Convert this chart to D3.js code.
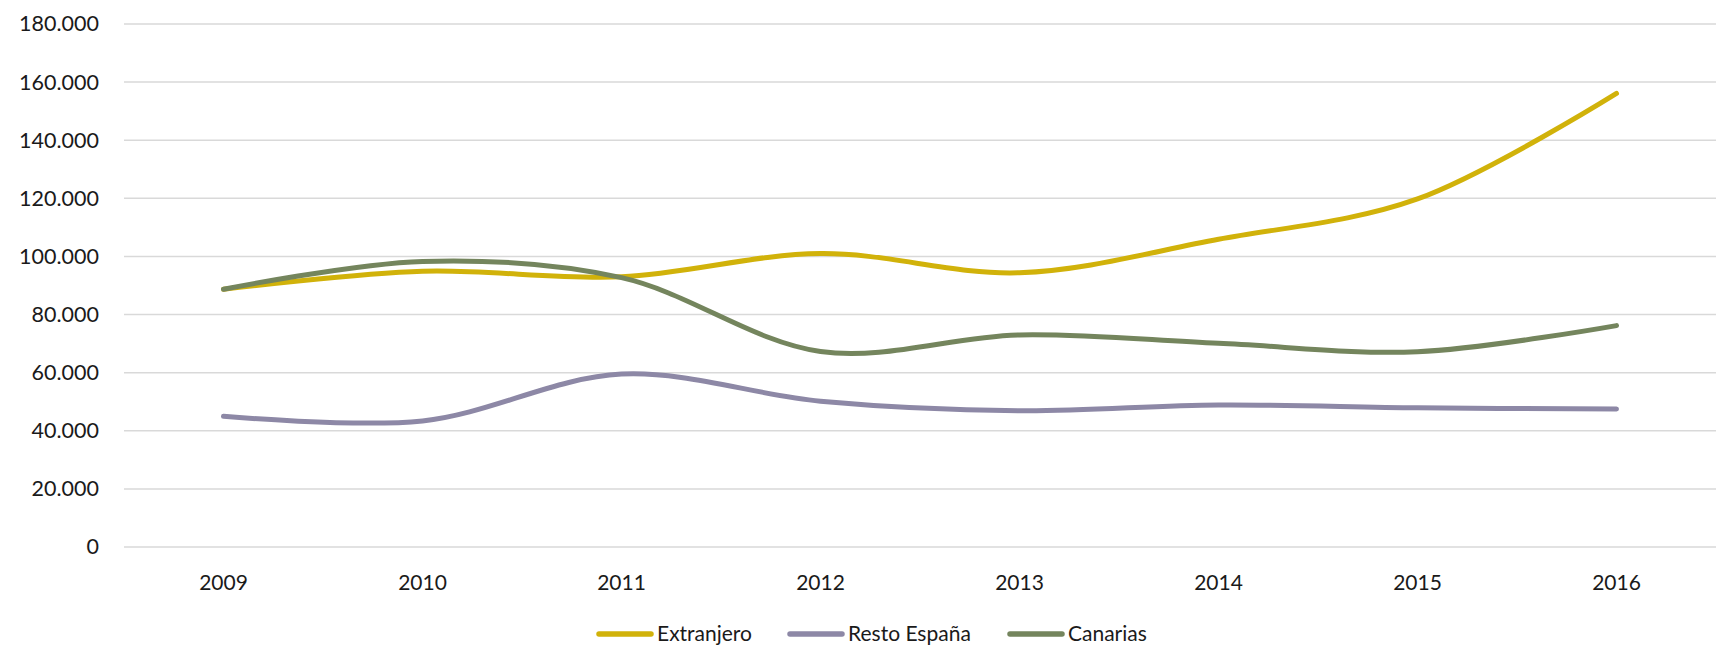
<!DOCTYPE html>
<html>
<head>
<meta charset="utf-8">
<script src="https://cdn.jsdelivr.net/npm/d3@7"></script>
<style>
  body { margin: 0; background: #fff; }
  svg text { font-family: Lato, "Open Sans", sans-serif; fill: #1a1a1a; }
</style>
</head>
<body>
<div id="chart"></div>
<script>
const WIDTH = 1723
const HEIGHT = 648

// data
var years = ["2009", "2010", "2011", "2012", "2013", "2014", "2015", "2016"]
var extranjero = [88700, 94900, 93000, 101000, 94400, 105900, 119800, 156100]
var restoEspana = [45000, 43400, 59500, 50200, 46900, 48900, 47900, 47500]
var canarias = [88700, 98300, 92700, 67300, 73000, 70100, 67200, 76200]
var yTicks = [0, 20000, 40000, 60000, 80000, 100000, 120000, 140000, 160000, 180000]

var series = [
  {name: "Extranjero", values: extranjero, color: "#d1b20a"},
  {name: "Resto España", values: restoEspana, color: "#8d88a6"},
  {name: "Canarias", values: canarias, color: "#74855d"}
]

var margin = {top: 24, right: 7, bottom: 101, left: 124},
    width = WIDTH - margin.left - margin.right,
    height = HEIGHT - margin.top - margin.bottom;

var svg = d3.select("#chart")
  .append("svg")
  .attr("width", WIDTH)
  .attr("height", HEIGHT)
  .append("g")
  .attr("transform", "translate(" + margin.left + "," + margin.top + ")");

var x = d3.scaleBand()
  .domain(years)
  .range([0, width])

var y = d3.scaleLinear()
  .domain([0, 180000])
  .range([height, 0])

// gridlines
svg.selectAll(".grid")
  .data(yTicks)
  .enter()
  .append("line")
  .attr("x1", 0)
  .attr("x2", width)
  .attr("y1", d => y(d))
  .attr("y2", d => y(d))
  .style("stroke", "#d9d9d9")
  .style("stroke-width", 1.5)

// y axis labels, thousands with a dot
var fmt = d3.formatLocale({decimal: ",", thousands: ".", grouping: [3], currency: ["", ""]}).format(",")
var yAxis = svg.append("g")
  .call(d3.axisLeft(y).tickValues(yTicks).tickFormat(fmt).tickSize(0).tickPadding(25))
yAxis.select(".domain").remove()
yAxis.selectAll("text").style("font-size", "21.5px").style("font-family", "Lato, sans-serif").attr("fill", "#1a1a1a")

// x axis labels
var xAxis = svg.append("g")
  .attr("transform", "translate(0," + height + ")")
  .call(d3.axisBottom(x).tickSize(0).tickPadding(28))
xAxis.select(".domain").remove()
xAxis.selectAll("text").style("font-size", "21px").style("font-family", "Lato, sans-serif").attr("fill", "#1a1a1a")

// smoothed lines like the spreadsheet
var line = d3.line()
  .x((d, i) => x(years[i]) + x.bandwidth() / 2)
  .y(d => y(d))
  .curve(d3.curveCatmullRom.alpha(0.5))

svg.selectAll(".series")
  .data(series)
  .enter()
  .append("path")
  .attr("d", d => line(d.values))
  .style("fill", "none")
  .style("stroke", d => d.color)
  .style("stroke-width", 5)
  .style("stroke-linecap", "round")

// legend (kept a bit above the bottom edge so descenders are not cut)
var legendX = [599, 790, 1010]
var legend = d3.select("svg").append("g")
series.forEach(function(s, i) {
  var g = legend.append("g").attr("transform", "translate(" + legendX[i] + ",634)")
  g.append("line")
    .attr("x1", 0).attr("x2", 52)
    .style("stroke", s.color)
    .style("stroke-width", 5.5)
    .style("stroke-linecap", "round")
  g.append("text")
    .attr("x", 58)
    .attr("dy", "0.35em")
    .style("font-size", "21px")
    .text(s.name)
})
</script>
</body>
</html>
